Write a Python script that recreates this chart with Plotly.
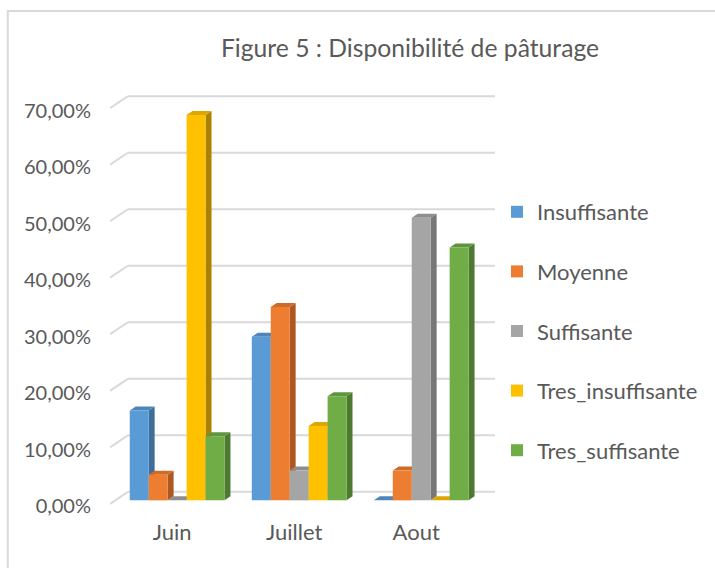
import plotly.graph_objects as go

# ---------------- data ----------------
months = ["Juin", "Juillet", "Aout"]
series_names = ["Insuffisante", "Moyenne", "Suffisante", "Tres_insuffisante", "Tres_suffisante"]
insuffisante = [15.91, 28.95, 0.0]
moyenne = [4.55, 34.21, 5.26]
suffisante = [0.0, 5.26, 50.00]
tres_insuffisante = [68.18, 13.16, 0.0]
tres_suffisante = [11.36, 18.42, 44.74]
y_tick_values = [0, 10, 20, 30, 40, 50, 60, 70]
y_tick_labels = ["0,00%", "10,00%", "20,00%", "30,00%", "40,00%", "50,00%", "60,00%", "70,00%"]
title_text = "Figure 5 : Disponibilité de pâturage"

series_values = [insuffisante, moyenne, suffisante, tres_insuffisante, tres_suffisante]

# ---------------- styles ----------------
front_colors = ["#5B9BD5", "#ED7D31", "#A5A5A5", "#FFC000", "#70AD47"]
top_colors = ["#4E86BA", "#CF6A27", "#8E8E8E", "#DDA600", "#5F963D"]
side_colors = ["#3F6E9A", "#AE5720", "#777777", "#A98200", "#4C7A31"]
text_color = "#595959"
grid_color = "#D9D9D9"
FONT = "Lato"

W, H = 715, 568
ML, MR, MT, MB = 110, 217, 90, 62
plot_w = W - ML - MR
plot_h = H - MT - MB
PX_PER_CAT = 123.0
x_range = [-0.55, -0.55 + plot_w / PX_PER_CAT]
PX_PER_PCT = 5.652
y_range = [-1.0, -1.0 + plot_h / PX_PER_PCT]
PX_PER_PCT = plot_h / (y_range[1] - y_range[0])

BAR_W = 19.1 / PX_PER_CAT
n_series = len(series_names)
GROUP_W = BAR_W * n_series
DX = 6.0 / PX_PER_CAT
DY = 4.0 / PX_PER_PCT

x_positions = list(range(len(months)))

fig = go.Figure()
for i, (name, vals) in enumerate(zip(series_names, series_values)):
    fig.add_trace(go.Bar(
        x=x_positions, y=vals, name=name,
        marker=dict(color=front_colors[i], line=dict(width=0)),
        legendgroup=name,
        hoverinfo="skip",
    ))

shapes = []

# frame
shapes.append(dict(type="rect", xref="paper", yref="paper",
                   x0=(7 - ML) / plot_w, x1=(W + 10 - ML) / plot_w,
                   y0=(H - MB - (H + 10)) / plot_h, y1=(H - MB - 11) / plot_h,
                   line=dict(color=grid_color, width=2), fillcolor="rgba(0,0,0,0)",
                   layer="below"))

# back-wall gridlines with side-wall slant
FRONT_OFF = -3.5 / PX_PER_PCT
BACK_OFF = 8.5 / PX_PER_PCT
WALL_DX = 18.0 / PX_PER_CAT
for v in y_tick_values:
    shapes.append(dict(type="line", xref="x", yref="y",
                       x0=x_range[0], y0=v + FRONT_OFF,
                       x1=x_range[0] + WALL_DX, y1=v + BACK_OFF,
                       line=dict(color=grid_color, width=2), layer="below"))
    shapes.append(dict(type="line", xref="x", yref="y",
                       x0=x_range[0] + WALL_DX, y0=v + BACK_OFF,
                       x1=x_range[1], y1=v + BACK_OFF,
                       line=dict(color=grid_color, width=2), layer="below"))

# 3D faces of bars
for i, vals in enumerate(series_values):
    for g, v in zip(x_positions, vals):
        x0 = g - GROUP_W / 2 + i * BAR_W
        x1 = x0 + BAR_W
        side = (f"M{x1},0 L{x1 + DX},{DY} L{x1 + DX},{v + DY} L{x1},{v} Z")
        top = (f"M{x0},{v} L{x0 + DX},{v + DY} L{x1 + DX},{v + DY} L{x1},{v} Z")
        shapes.append(dict(type="path", xref="x", yref="y", path=side,
                           fillcolor=side_colors[i], line=dict(width=0), layer="below"))
        shapes.append(dict(type="path", xref="x", yref="y", path=top,
                           fillcolor=top_colors[i], line=dict(width=0), layer="below"))

fig.update_layout(
    width=W, height=H,
    margin=dict(l=ML, r=MR, t=MT, b=MB, pad=0),
    paper_bgcolor="white", plot_bgcolor="rgba(0,0,0,0)",
    barmode="group", bargap=1 - GROUP_W, bargroupgap=0,
    font=dict(family=FONT, color=text_color, size=20),
    title=dict(text=title_text, x=410 / W, xref="container", xanchor="center",
               y=1 - 48 / H, yref="container", yanchor="middle",
               font=dict(family=FONT, size=24.7, color=text_color)),
    xaxis=dict(range=x_range, tickvals=x_positions, ticktext=months,
               showgrid=False, zeroline=False, showline=False, ticks="",
               ticklabelshift=-5, ticklabelstandoff=11,
               tickfont=dict(family=FONT, size=22, color=text_color), fixedrange=True),
    yaxis=dict(range=y_range, tickvals=y_tick_values, ticktext=y_tick_labels,
               showgrid=False, zeroline=False, showline=False, ticks="",
               ticklabelshift=6, ticklabelstandoff=18,
               tickfont=dict(family=FONT, size=20, color=text_color), fixedrange=True),
    legend=dict(x=(500 - ML) / plot_w, xanchor="left",
                y=(H - MB - 331) / plot_h, yanchor="middle",
                font=dict(family=FONT, size=22, color=text_color),
                tracegroupgap=28, bgcolor="rgba(0,0,0,0)", itemclick=False),
    shapes=shapes,
    showlegend=True,
)

fig.write_html("out.html",
               config={"displayModeBar": False},
               post_script="document.body.style.margin='0';document.body.style.padding='0';document.body.style.overflow='hidden';")
